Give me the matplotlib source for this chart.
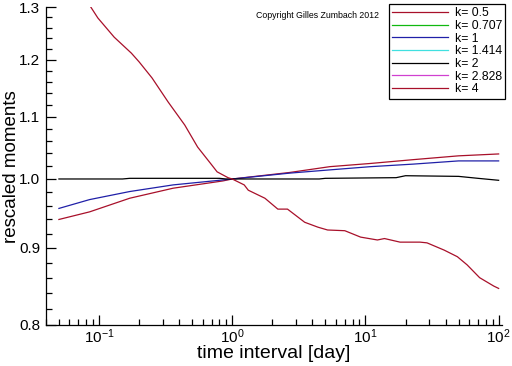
import numpy as np
import matplotlib
matplotlib.use("Agg")
import matplotlib.pyplot as plt
from matplotlib.ticker import FixedLocator, FixedFormatter, LogLocator

plt.rcParams['font.family'] = ['Liberation Sans', 'DejaVu Sans']
plt.rcParams['mathtext.fontset'] = 'custom'
plt.rcParams['mathtext.rm'] = 'Liberation Sans'

# values
x_low = [0.05, 0.085, 0.17, 0.36, 0.85, 1.0, 2.7, 5.4, 10.9, 22.9, 50, 100]
k05 = [0.940, 0.951, 0.971, 0.986, 0.997, 1.0, 1.010, 1.019, 1.024, 1.030, 1.036, 1.039]
k1 = [0.956, 0.969, 0.981, 0.991, 0.9985, 1.0, 1.009, 1.014, 1.019, 1.023, 1.028, 1.028]

x_k2 = [0.05, 0.15, 0.17, 0.8, 0.9, 2.4, 4.5, 5.0, 17, 20, 50, 70, 100]
k2 = [1.0, 1.0, 1.001, 1.001, 1.0, 1.0, 1.0, 1.001, 1.002, 1.005, 1.004, 1.001, 0.998]

x_k4 = [0.05, 0.087, 0.098, 0.13, 0.175, 0.20, 0.25, 0.33, 0.44, 0.55, 0.70, 0.77,
        0.93, 1.0, 1.23, 1.32, 1.76, 2.2, 2.6, 3.5, 4.4, 5.2, 7.0, 9.2, 12.3, 13.9,
        18.2, 25.7, 29, 39, 49, 58, 72, 92, 100]
k4 = [1.40, 1.30, 1.279, 1.242, 1.212, 1.196, 1.167, 1.125, 1.086, 1.050, 1.022, 1.011,
      1.002, 1.0, 0.991, 0.983, 0.971, 0.955, 0.955, 0.936, 0.929, 0.925, 0.924, 0.915,
      0.911, 0.913, 0.908, 0.908, 0.907, 0.897, 0.888, 0.877, 0.860, 0.849, 0.846]

# these three are not visible in the picture
k0707 = []
k1414 = []
k2828 = []

y_ticks = [0.8, 0.9, 1.0, 1.1, 1.2, 1.3]
y_labels = ["0.8", "0.9", "1.0", "1.1", "1.2", "1.3"]

fig = plt.figure(figsize=(5.12, 3.66), dpi=100)
ax = fig.add_axes([46 / 512, 41 / 366, 456 / 512, 317.7 / 366])

lw = 0.9
ax.plot(x_low, k05, color='#a8102a', lw=lw, label='k= 0.5')
ax.plot(k0707, k0707, color='#10b810', lw=lw, label='k= 0.707')
ax.plot(x_low, k1, color='#2020a8', lw=lw, label='k= 1')
ax.plot(k1414, k1414, color='#40e0e0', lw=lw, label='k= 1.414')
ax.plot(x_k2, k2, color='black', lw=lw, label='k= 2')
ax.plot(k2828, k2828, color='#d040d0', lw=lw, label='k= 2.828')
ax.plot(x_k4, k4, color='#a8102a', lw=lw, label='k= 4')

ax.set_xscale('log')
ax.set_yscale('log')
ax.set_xlim(0.04, 106)
ax.set_ylim(0.8, 1.3)

ax.yaxis.set_major_locator(FixedLocator(y_ticks))
ax.yaxis.set_major_formatter(FixedFormatter(y_labels))
ax.yaxis.set_minor_locator(FixedLocator(np.arange(0.82, 1.3, 0.02)))
ax.yaxis.set_minor_formatter(FixedFormatter([]))
ax.xaxis.set_major_locator(LogLocator(base=10))
ax.xaxis.set_minor_locator(LogLocator(base=10, subs=np.arange(2, 10)))

ax.spines['top'].set_visible(False)
ax.spines['right'].set_visible(False)
for s in ['left', 'bottom']:
    ax.spines[s].set_linewidth(0.9)

ax.tick_params(which='both', direction='in', width=0.9, labelsize=11, colors='black')
ax.tick_params(which='major', length=7, pad=4)
ax.tick_params(axis='x', which='major', pad=2)
ax.tick_params(which='minor', length=4)

ax.set_xlabel('time interval [day]', fontsize=14)
ax.set_ylabel('rescaled moments', fontsize=13.5)
ax.xaxis.set_label_coords(0.5, -0.063)
ax.yaxis.set_label_coords(-0.058, 0.5)

fig.text(256 / 512, 1 - 15 / 366, 'Copyright Gilles Zumbach 2012', fontsize=6.3,
         va='center', ha='left')

leg = fig.legend(loc='upper right', bbox_to_anchor=(505 / 512, 1 - 4 / 366),
                 fontsize=8.8, frameon=True, fancybox=False, framealpha=1,
                 edgecolor='black', handlelength=4.6, handletextpad=0.5,
                 labelspacing=0.06, borderpad=0.25, borderaxespad=0)
leg.get_frame().set_linewidth(0.9)

fig.savefig('out.png', dpi=100)
